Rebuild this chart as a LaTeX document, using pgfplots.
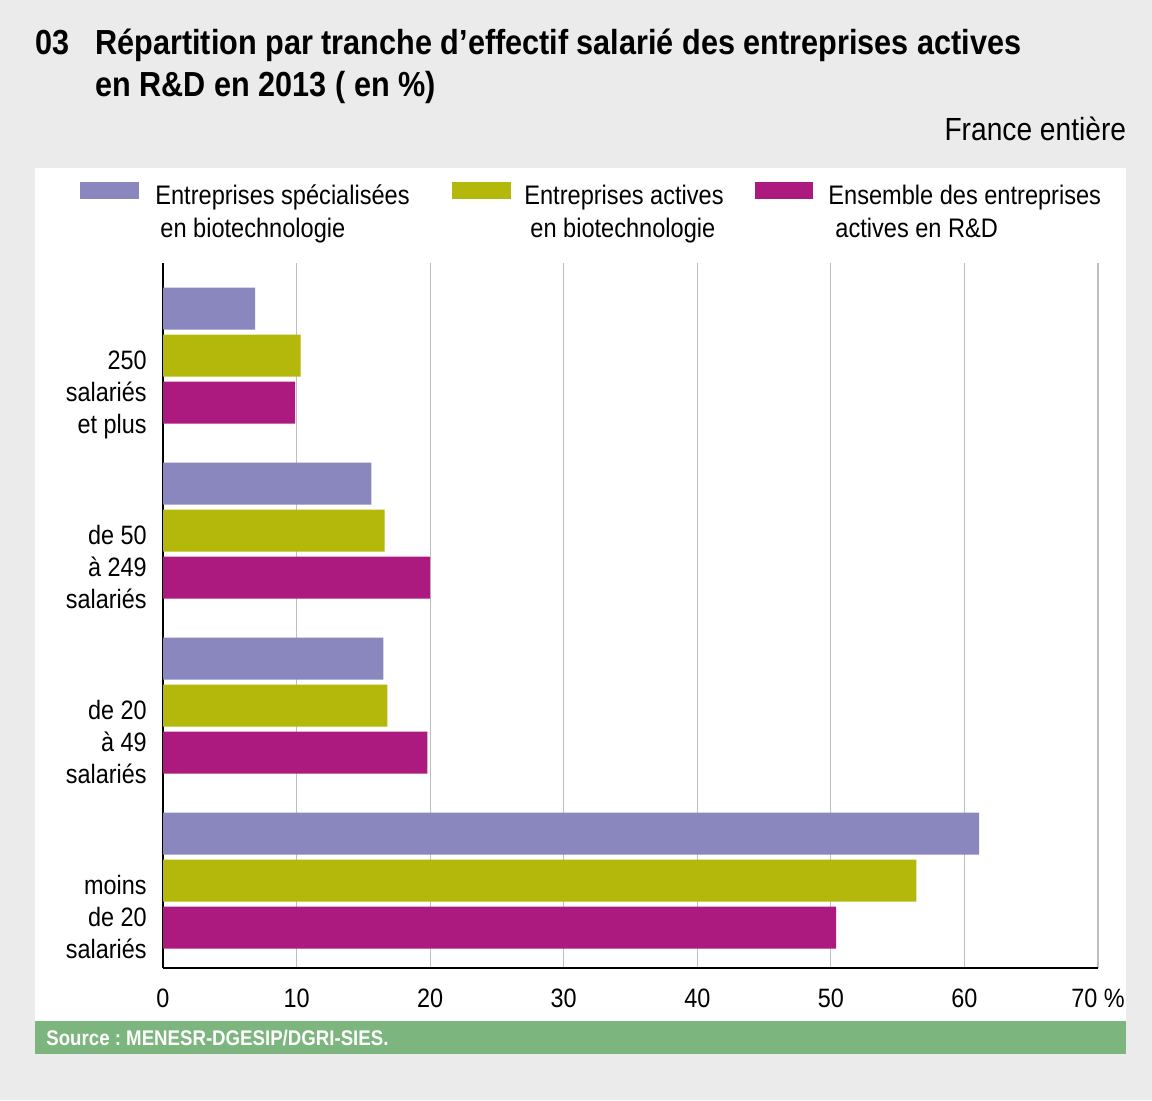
\documentclass[border=0pt]{standalone}
\usepackage{fontspec}
\setmainfont{Liberation Sans}[FakeStretch=0.88]
\usepackage{pgfplots}
\pgfplotsset{compat=1.18}
\usepackage{pgfplotstable}
\frenchspacing
\definecolor{bg}{HTML}{EBEBEB}
\definecolor{cpurple}{HTML}{8A86BE}
\definecolor{cgreen}{HTML}{B3B80B}
\definecolor{cmagenta}{HTML}{AC1A80}
\definecolor{srcgreen}{HTML}{7DB57E}
\definecolor{gridgray}{HTML}{BEBEBE}
\pgfplotstableread{
y purple green magenta
0 61.1 56.4 50.4
1 16.5 16.8 19.8
2 15.6 16.6 20.0
3 6.9 10.3 9.9
}\datatable
\begin{document}
\begin{tikzpicture}
\begin{scope}[x=0.5pt,y=0.5pt]
\fill[bg] (0,0) rectangle (1152,1100);
\fill[white] (35,79) rectangle (1126,932);
\fill[srcgreen] (35,46) rectangle (1126,79);
% title
\node[anchor=base west,inner sep=0pt,font=\bfseries\fontsize{17.4}{21}\selectfont] at (35,1045) {03};
\node[anchor=base west,inner sep=0pt,font=\bfseries\fontsize{17.4}{21}\selectfont] at (95,1045) {Répartition par tranche d’effectif salarié des entreprises actives};
\node[anchor=base west,inner sep=0pt,font=\bfseries\fontsize{17.4}{21}\selectfont] at (95,1003) {en R\&D en 2013 ( en \%)};
\node[anchor=base east,inner sep=0pt,font=\fontsize{16}{19}\selectfont] at (1126.5,959.3) {France entière};
% legend
\fill[cpurple] (80,918) rectangle (139,901);
\fill[cgreen] (452,918) rectangle (511,901);
\fill[cmagenta] (755,918) rectangle (813,901);
\begin{scope}[every node/.style={anchor=base west,inner sep=0pt,font=\fontsize{13.4}{16}\selectfont}]
\node at (155,895) {Entreprises spécialisées};
\node at (160,862) {en biotechnologie};
\node at (524,895) {Entreprises actives};
\node at (530,862) {en biotechnologie};
\node at (828,895) {Ensemble des entreprises};
\node at (835,862) {actives en R\&D};
\end{scope}
% source
\node[anchor=base west,inner sep=0pt,text=white,font=\bfseries\fontsize{10.6}{12}\selectfont] at (46,55) {Source : MENESR-DGESIP/DGRI-SIES.};
\end{scope}
\begin{axis}[
  at={(81.5pt,66pt)}, anchor=south west,
  scale only axis, width=467.5pt, height=352.5pt,
  xmin=0, xmax=70, ymin=-0.5, ymax=3.529,
  axis x line=bottom, axis y line=left,
  axis line style={-, line width=1pt, black},
  xtick={0,10,20,30,40,50,60,70},
  xticklabels={0,10,20,30,40,50,60,70 \%},
  ytick={0,1,2,3},
  yticklabels={{\rule{0pt}{11pt}moins\\de 20\\salariés},{\rule{0pt}{11pt}de 20\\à 49\\salariés},{\rule{0pt}{11pt}de 50\\à 249\\salariés},{\rule{0pt}{11pt}250\\salariés\\et plus}},
  major tick length=0pt,
  xmajorgrids, ymajorgrids=false,
  major grid style={color=gridgray, line width=0.6pt},
  tick label style={font=\fontsize{13.3}{16}\selectfont},
  xticklabel style={anchor=base, yshift=-19.5pt, inner sep=0pt},
  yticklabel style={anchor=north east, align=right, inner sep=0pt, xshift=-8pt, yshift=4pt},
  xbar, bar width=0.24,
  clip=false,
]
\addplot[draw=none, fill=cpurple, bar shift=0.2686] table[x=purple, y=y] {\datatable};
\addplot[draw=none, fill=cgreen, bar shift=0] table[x=green, y=y] {\datatable};
\addplot[draw=none, fill=cmagenta, bar shift=-0.2686] table[x=magenta, y=y] {\datatable};
\end{axis}
\pgfresetboundingbox
\useasboundingbox (0,0) rectangle (576pt,550pt);
\end{tikzpicture}
\end{document}
